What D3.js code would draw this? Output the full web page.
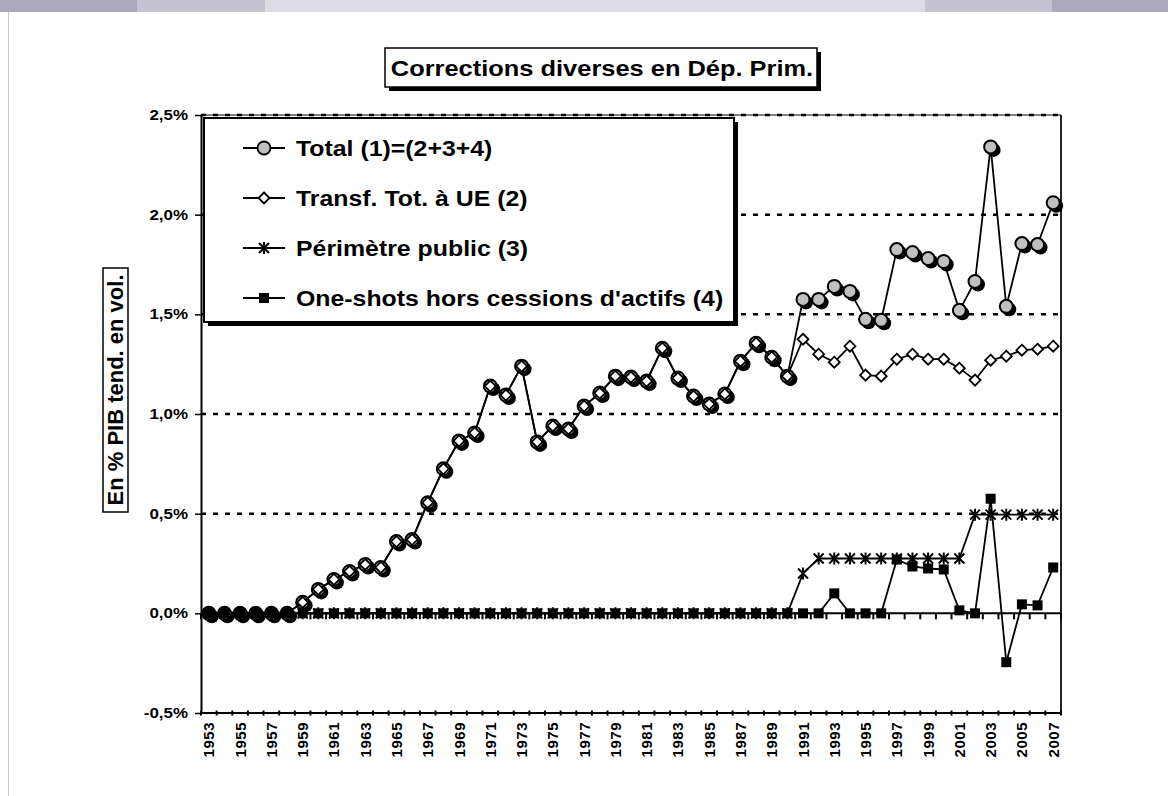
<!DOCTYPE html>
<html>
<head>
<meta charset="utf-8">
<script src="https://cdn.jsdelivr.net/npm/d3@7"></script>
<style>
  body { margin: 0; background: #fff; }
  text { font-family: "Liberation Sans", Arial, sans-serif; font-weight: bold; fill: #000; }
</style>
</head>
<body>
<div id="chart"></div>
<script>
// horizontal stretch of the original picture (text looks wider than tall)
const STRETCH = 1.13;

// categories
const years = d3.range(1953, 2008);

// series values (% of trend GDP)
const total = [0, 0, 0, 0, 0, 0, 0.055, 0.12, 0.17, 0.21, 0.245, 0.23, 0.36, 0.37, 0.555, 0.725, 0.865, 0.905,
	1.14, 1.095, 1.24, 0.86, 0.94, 0.925, 1.04, 1.105, 1.19, 1.185, 1.165, 1.33, 1.18, 1.09, 1.05, 1.10,
	1.265, 1.355, 1.285, 1.19, 1.575, 1.575, 1.64, 1.615, 1.475, 1.47, 1.825, 1.81, 1.78, 1.765, 1.52,
	1.665, 2.34, 1.54, 1.855, 1.85, 2.06];
const transf = [0, 0, 0, 0, 0, 0, 0.055, 0.12, 0.17, 0.21, 0.245, 0.23, 0.36, 0.37, 0.555, 0.725, 0.865, 0.905,
	1.14, 1.095, 1.24, 0.86, 0.94, 0.925, 1.04, 1.105, 1.19, 1.185, 1.165, 1.33, 1.18, 1.09, 1.05, 1.10,
	1.265, 1.355, 1.285, 1.19, 1.375, 1.30, 1.26, 1.34, 1.195, 1.19, 1.275, 1.30, 1.275, 1.275, 1.23,
	1.17, 1.27, 1.29, 1.32, 1.325, 1.34];
const perimetre = [0, 0, 0, 0, 0, 0, 0, 0, 0, 0, 0, 0, 0, 0, 0, 0, 0, 0, 0, 0, 0, 0, 0, 0, 0, 0, 0, 0, 0, 0,
	0, 0, 0, 0, 0, 0, 0, 0, 0.20, 0.275, 0.275, 0.275, 0.275, 0.275, 0.275, 0.275, 0.275, 0.275, 0.275,
	0.495, 0.495, 0.495, 0.495, 0.495, 0.495];
const oneShots = [0, 0, 0, 0, 0, 0, 0, 0, 0, 0, 0, 0, 0, 0, 0, 0, 0, 0, 0, 0, 0, 0, 0, 0, 0, 0, 0, 0, 0, 0,
	0, 0, 0, 0, 0, 0, 0, 0, 0, 0, 0.10, 0, 0, 0, 0.27, 0.235, 0.225, 0.22, 0.015, 0, 0.575, -0.245,
	0.045, 0.04, 0.23];

// labels
const seriesNames = ["Total (1)=(2+3+4)", "Transf. Tot. à UE (2)", "Périmètre public (3)", "One-shots hors cessions d'actifs (4)"];
const yTicks = [-0.5, 0, 0.5, 1.0, 1.5, 2.0, 2.5];
const xTickYears = years.filter(y => y % 2 === 1);
const chartTitle = "Corrections diverses en Dép. Prim.";
const yTitle = "En % PIB tend. en vol.";

const width = 1168, height = 796;
const plot = { left: 201, right: 1061, top: 115, bottom: 713 };

const svg = d3.select('#chart')
	.append('svg')
	.attr('width', width)
	.attr('height', height);

// page frame: band on top and thin line on the left
const band = [[0, 137, "#aaa8b9"], [137, 265, "#c5c3d0"], [265, 925, "#dddbe2"], [925, 1052, "#c5c3d0"], [1052, 1168, "#aaa8b9"]];
svg.selectAll('rect.band')
	.data(band)
	.enter()
	.append('rect')
	.attr('x', d => d[0])
	.attr('y', 0)
	.attr('width', d => d[1] - d[0])
	.attr('height', 12)
	.attr('fill', d => d[2]);
svg.append('line')
	.attr('x1', 8.5).attr('x2', 8.5)
	.attr('y1', 12).attr('y2', height)
	.attr('stroke', '#c8c8c8');

// scales
const x = d3.scaleBand().domain(years).range([plot.left, plot.right]);
const cx = d => x(d) + x.bandwidth() / 2;
const y = d3.scaleLinear().domain([-0.5, 2.5]).range([plot.bottom, plot.top]);
const fmt = v => v.toFixed(1).replace('.', ',') + '%';

// gridlines
svg.append('g')
	.selectAll('line')
	.data(yTicks.filter(v => v > 0))
	.enter()
	.append('line')
	.attr('x1', plot.left).attr('x2', plot.right)
	.attr('y1', d => y(d)).attr('y2', d => y(d))
	.attr('stroke', '#000')
	.attr('stroke-width', 2.5)
	.attr('stroke-dasharray', '5,7');

// plot borders
svg.append('line')
	.attr('x1', plot.left).attr('x2', plot.right)
	.attr('y1', plot.top).attr('y2', plot.top)
	.attr('stroke', '#000').attr('stroke-width', 1);
svg.append('line')
	.attr('x1', plot.right).attr('x2', plot.right)
	.attr('y1', plot.top).attr('y2', plot.bottom)
	.attr('stroke', '#222').attr('stroke-width', 2);
svg.append('line')
	.attr('x1', plot.left).attr('x2', plot.right)
	.attr('y1', plot.bottom).attr('y2', plot.bottom)
	.attr('stroke', '#000').attr('stroke-width', 2);
// small marks on the bottom border
svg.append('g')
	.selectAll('line')
	.data(d3.range(years.length + 1))
	.enter()
	.append('line')
	.attr('x1', i => plot.left + i * x.bandwidth()).attr('x2', i => plot.left + i * x.bandwidth())
	.attr('y1', plot.bottom - 2.5).attr('y2', plot.bottom + 2.5)
	.attr('stroke', '#000').attr('stroke-width', 2);

// y axis
const yAxis = svg.append('g')
	.attr('transform', `translate(${plot.left},0)`)
	.call(d3.axisLeft(y).tickValues(yTicks).tickFormat('').tickSize(6).tickSizeOuter(0));
yAxis.select('.domain').attr('stroke-width', 2);
yAxis.selectAll('.tick line').attr('stroke-width', 1.5);

svg.append('g')
	.selectAll('text')
	.data(yTicks)
	.enter()
	.append('text')
	.attr('transform', d => `translate(188,${y(d) + 5}) scale(${STRETCH},1)`)
	.attr('text-anchor', 'end')
	.style('font-size', '15px')
	.text(fmt);

// category axis crossing at 0
const zero = y(0);
svg.append('line')
	.attr('x1', plot.left).attr('x2', plot.right)
	.attr('y1', zero).attr('y2', zero)
	.attr('stroke', '#000').attr('stroke-width', 2);
svg.append('g')
	.selectAll('line')
	.data(d3.range(years.length + 1))
	.enter()
	.append('line')
	.attr('x1', i => plot.left + i * x.bandwidth()).attr('x2', i => plot.left + i * x.bandwidth())
	.attr('y1', zero).attr('y2', zero + 6)
	.attr('stroke', '#000').attr('stroke-width', 2);

// x labels, one year out of two, rotated
svg.append('g')
	.selectAll('text')
	.data(xTickYears)
	.enter()
	.append('text')
	.attr('transform', d => `translate(${cx(d) + 5.5},722) rotate(-90)`)
	.attr('text-anchor', 'end')
	.style('font-size', '15px')
	.style('letter-spacing', '0.5px')
	.text(d => d);

// markers
function markCircle(g) {
	g.append('circle').attr('cx', 3).attr('cy', 3).attr('r', 7).attr('fill', '#000');
	g.append('circle').attr('r', 6.5).attr('fill', '#c0c0c0').attr('stroke', '#000').attr('stroke-width', 2);
}
function markDiamond(g) {
	g.append('path').attr('d', 'M0,-5.5L5.5,0L0,5.5L-5.5,0Z').attr('fill', '#fff').attr('stroke', '#000').attr('stroke-width', 1.8);
}
function markStar(g) {
	g.append('path').attr('d', 'M-5,-5L5,5M-5,5L5,-5M0,-6L0,6').attr('stroke', '#000').attr('stroke-width', 2).attr('fill', 'none');
}
function markSquare(g) {
	g.append('rect').attr('x', -5).attr('y', -5).attr('width', 10).attr('height', 10).attr('fill', '#000');
}

const series = [
	{ values: total, marker: markCircle },
	{ values: transf, marker: markDiamond },
	{ values: perimetre, marker: markStar },
	{ values: oneShots, marker: markSquare }
];

const line = d3.line()
	.x((d, i) => cx(years[i]))
	.y(d => y(d));

series.forEach(s => {
	const g = svg.append('g');
	g.append('path')
		.attr('d', line(s.values))
		.attr('fill', 'none')
		.attr('stroke', '#000')
		.attr('stroke-width', 1.8);
	g.selectAll('g')
		.data(s.values)
		.enter()
		.append('g')
		.attr('transform', (d, i) => `translate(${cx(years[i])},${y(d)})`)
		.each(function () { s.marker(d3.select(this)); });
});

// legend
const legend = svg.append('g');
legend.append('rect')
	.attr('x', 208).attr('y', 122).attr('width', 530).attr('height', 204)
	.attr('fill', '#000');
legend.append('rect')
	.attr('x', 204).attr('y', 118).attr('width', 530).attr('height', 204)
	.attr('fill', '#fff').attr('stroke', '#000').attr('stroke-width', 2);

seriesNames.forEach((name, i) => {
	const ly = 148 + i * 50;
	legend.append('line')
		.attr('x1', 243).attr('x2', 285)
		.attr('y1', ly).attr('y2', ly)
		.attr('stroke', '#000').attr('stroke-width', 1.8);
	const m = legend.append('g').attr('transform', `translate(264,${ly})`);
	if (i === 0) {
		m.append('circle').attr('r', 6.5).attr('fill', '#c0c0c0').attr('stroke', '#000').attr('stroke-width', 1.8);
	} else {
		series[i].marker(m);
	}
	legend.append('text')
		.attr('transform', `translate(296,${ly + 8}) scale(${STRETCH},1)`)
		.style('font-size', '22px')
		.text(name);
});

// title with shadowed box
svg.append('rect')
	.attr('x', 389).attr('y', 52).attr('width', 432).attr('height', 39)
	.attr('fill', '#000');
svg.append('rect')
	.attr('x', 385).attr('y', 48).attr('width', 432).attr('height', 39)
	.attr('fill', '#fff').attr('stroke', '#000').attr('stroke-width', 1.5);
svg.append('text')
	.attr('transform', `translate(602,76) scale(${STRETCH},1)`)
	.attr('text-anchor', 'middle')
	.style('font-size', '22.5px')
	.text(chartTitle);

// y axis title in a box
svg.append('rect')
	.attr('x', 103).attr('y', 268).attr('width', 25).attr('height', 244)
	.attr('fill', '#fff').attr('stroke', '#000').attr('stroke-width', 1.5);
svg.append('text')
	.attr('transform', `translate(123,390) rotate(-90)`)
	.attr('text-anchor', 'middle')
	.style('font-size', '22px')
	.text(yTitle);
</script>
</body>
</html>
